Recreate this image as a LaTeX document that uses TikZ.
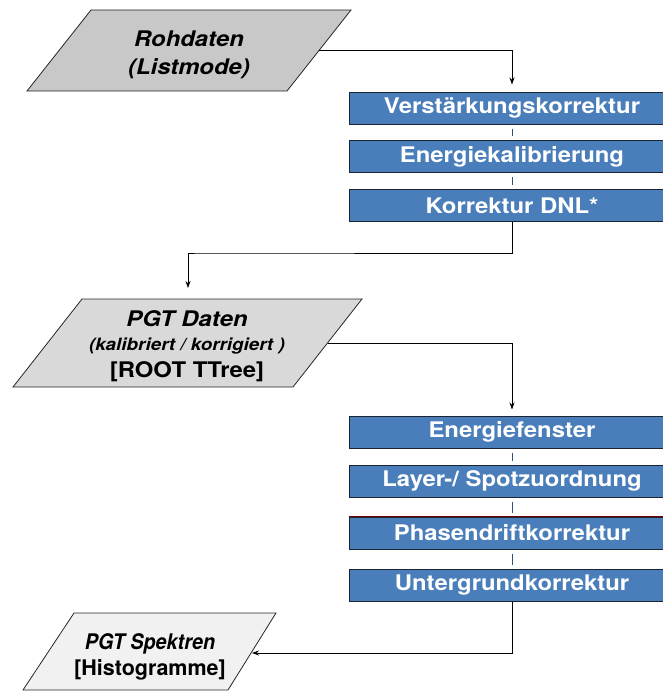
\documentclass[tikz,border=0pt]{standalone}
\usepackage{fontspec}
\setmainfont{TeX Gyre Heros}[FakeStretch=1.11]
\newfontfamily\narrowfont{TeX Gyre Heros}[FakeStretch=0.92]
\newfontfamily\midfont{TeX Gyre Heros}[FakeStretch=1.0]
\usetikzlibrary{arrows.meta}
\definecolor{boxblue}{HTML}{4A7EBB}
\definecolor{boxedge}{HTML}{1B2430}
\definecolor{linkblue}{HTML}{2F4F7F}
\definecolor{grayA}{HTML}{C8C8C8}
\definecolor{grayB}{HTML}{D9D9D9}
\definecolor{grayC}{HTML}{F1F1F1}
\tikzset{
  procbox/.style={draw=boxedge, line width=1pt, fill=boxblue, text=white,
    minimum width=326pt, minimum height=32pt, inner sep=0pt,
    font=\fontsize{21.5}{24}\selectfont\bfseries},
  datashape/.style={draw=black!85, line width=0.8pt},
  ptext/.style={align=center, inner sep=0pt, text=black},
  flow/.style={draw=black, line width=0.8pt, -{Stealth[length=7pt,width=5pt]}},
  link/.style={draw=linkblue, line width=0.8pt, shorten >=4pt, shorten <=4pt}
}
\newcommand{\bigbi}{\fontsize{21.5}{28}\selectfont\bfseries\itshape}
\begin{document}
\begin{tikzpicture}[x=1pt,y=-1pt]
\useasboundingbox (0,0) rectangle (663,693);
\clip (0,0) rectangle (663,693);

% data shapes (parallelograms)
\draw[datashape, fill=grayA] (91,10) -- (351,10) -- (287,91) -- (27,91) -- cycle;
\draw[datashape, fill=grayB] (82,299) -- (362,299) -- (293,387) -- (13,387) -- cycle;
\draw[datashape, fill=grayC] (74,613) -- (276,613) -- (228,690) -- (23,690) -- cycle;

\node[ptext, font=\bigbi] (roh) at (189,55) {Rohdaten\\(Listmode)};
\node[ptext, font=\fontsize{21.5}{24}\selectfont\bfseries] (pgt) at (187,346)
  {\bigbi PGT Daten\\[0pt]
   \fontsize{17}{19}\selectfont\bfseries\itshape (kalibriert / korrigiert )\\[3pt]
   \fontsize{21.5}{24}\selectfont\bfseries [ROOT TTree]};
\node[ptext, font=\narrowfont\fontsize{21.5}{26}\selectfont\bfseries] (spk) at (150,657)
  {{\itshape PGT Spektren}\\{\midfont\bfseries [Histogramme]}};

\coordinate (rohout) at (319.4,50);
\coordinate (pgtout) at (327.5,343);
\coordinate (pgtin) at (188,288);
\coordinate (spkin) at (252,653);

% processing boxes
\node[procbox] (b1) at (512,108) {Verstärkungskorrektur};
\node[procbox] (b2) at (512,156.5) {Energiekalibrierung};
\node[procbox] (b3) at (512,205.5) {Korrektur DNL*};
\node[procbox] (b4) at (512,432) {Energiefenster};
\node[procbox] (b5) at (512,481) {Layer-/ Spotzuordnung};
\node[procbox] (b6) at (512,533) {Phasendriftkorrektur};
\node[procbox] (b7) at (512,585) {Untergrundkorrektur};
\draw[draw=red!45!black, line width=1pt] (b6.north west) -- (b6.north east);

% links between boxes
\draw[link] (b1.south) -- (b2.north);
\draw[link] (b2.south) -- (b3.north);
\draw[link] (b4.south) -- (b5.north);
\draw[link] (b5.south) -- (b6.north);
\draw[link] (b6.south) -- (b7.north);

% flow connectors
\draw[flow, shorten >=7pt] (rohout) -| (b1.north);
\draw[flow] (b3.south) |- (200,253) -| (pgtin);
\draw[flow, shorten >=6pt] (pgtout) -| (b4.north);
\draw[flow] (b7.south) |- (spkin);
\end{tikzpicture}
\end{document}
